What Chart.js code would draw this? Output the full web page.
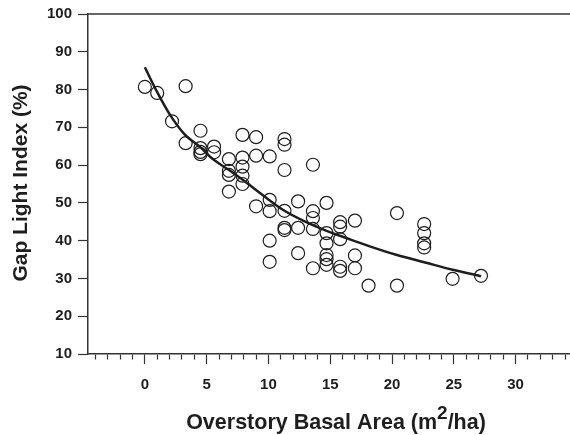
<!DOCTYPE html>
<html><head><meta charset="utf-8">
<script src="https://cdn.jsdelivr.net/npm/chart.js@4/dist/chart.umd.min.js"></script>
<style>html,body{margin:0;padding:0;background:#fff}#wrap{width:570px;height:435px}</style>
</head><body><div id="wrap"><canvas id="c" width="570" height="435"></canvas></div>
<script>
const obsX = [0, 1, 3.3, 2.2, 4.5, 3.3, 4.5, 4.5, 4.5, 5.6, 5.6, 7.9, 9, 11.3, 11.3, 6.8, 7.9, 9, 10.1, 13.6, 11.3, 6.8, 6.8, 7.9, 7.9, 7.9, 6.8, 10.1, 9, 10.1, 11.3, 12.4, 13.6, 13.6, 13.6, 14.7, 11.3, 11.3, 12.4, 10.1, 12.4, 10.1, 13.6, 14.7, 14.7, 14.7, 14.7, 14.7, 15.8, 15.8, 15.8, 15.8, 15.8, 17, 17, 17, 18.1, 20.4, 20.4, 22.6, 22.6, 22.6, 22.6, 24.9, 27.2];
const obsY = [80.7, 79.1, 80.9, 71.6, 69.1, 65.8, 64.5, 63.5, 62.9, 64.9, 63.4, 68, 67.4, 66.9, 65.4, 61.6, 62, 62.5, 62.3, 60.1, 58.7, 58.5, 57.4, 59.6, 57.2, 55, 53, 50.8, 49.1, 47.8, 47.9, 50.4, 47.8, 46, 43.1, 50, 43.4, 42.8, 43.4, 40, 36.7, 34.4, 32.7, 42, 39.3, 36.2, 35.1, 33.6, 44.9, 43.7, 40.4, 33.1, 32, 45.3, 36.1, 32.7, 28.1, 47.3, 28.1, 44.4, 42, 39.3, 38.2, 29.9, 30.7];
const fitX = [0, 1, 2, 3.2, 4.5, 5.5, 6.9, 8, 9.6, 11.2, 12.8, 14.7, 16.3, 18.2, 20.4, 22.6, 24.9, 27.2];
const fitY = [85.9, 79.3, 73.5, 68.2, 64.7, 61.6, 58.5, 55.9, 51.9, 48.1, 45.3, 42.6, 40.7, 38.5, 36.2, 34.3, 32.3, 30.6];
const xTickValues = [-4,-3,-2,-1,0,1,2,3,4,5,6,7,8,9,10,11,12,13,14,15,16,17,18,19,20,21,22,23,24,25,26,27,28,29,30,31,32,33,34];
const xLabelValues = [0, 5, 10, 15, 20, 25, 30];
const yTickValues = [10, 20, 30, 40, 50, 60, 70, 80, 90, 100];
const xTitleMain = 'Overstory Basal Area (m';
const xTitleSup = '2';
const xTitleEnd = '/ha)';
const yTitle = 'Gap Light Index (%)';

const FONT = "'Liberation Sans', Arial, sans-serif";
const INK = '#1e1e1e';

const framePlugin = {
  id: 'frame',
  afterDraw(chart) {
    const {ctx, chartArea: a} = chart;
    ctx.save();
    ctx.strokeStyle = '#333';
    ctx.lineWidth = 1.5;
    ctx.beginPath();
    ctx.moveTo(a.left, a.top);
    ctx.lineTo(a.right, a.top);
    ctx.stroke();
    // y title
    ctx.fillStyle = INK;
    ctx.font = 'bold 21px ' + FONT;
    ctx.textAlign = 'center';
    ctx.textBaseline = 'middle';
    ctx.translate(21, 183);
    ctx.rotate(-Math.PI / 2);
    ctx.fillText(yTitle, 0, 0);
    ctx.restore();
    // x title with superscript
    ctx.save();
    ctx.fillStyle = INK;
    ctx.textBaseline = 'alphabetic';
    ctx.textAlign = 'left';
    const mainFont = 'bold 21.5px ' + FONT;
    const supFont = 'bold 19px ' + FONT;
    ctx.font = mainFont;
    const w1 = ctx.measureText(xTitleMain).width;
    const w3 = ctx.measureText(xTitleEnd).width;
    ctx.font = supFont;
    const w2 = ctx.measureText(xTitleSup).width;
    const total = w1 + w2 + w3;
    let x = 336 - total / 2;
    const base = 429;
    ctx.font = mainFont;
    ctx.fillText(xTitleMain, x, base);
    x += w1;
    ctx.font = supFont;
    ctx.fillText(xTitleSup, x, base - 10);
    x += w2;
    ctx.font = mainFont;
    ctx.fillText(xTitleEnd, x, base);
    ctx.restore();
  }
};

new Chart(document.getElementById('c'), {
  type: 'scatter',
  data: {
    datasets: [
      {
        data: obsX.map((x, i) => ({x, y: obsY[i]})),
        pointRadius: 6.5,
        pointHoverRadius: 6.5,
        pointBorderWidth: 1.2,
        borderColor: INK,
        backgroundColor: 'rgba(0,0,0,0)',
        showLine: false
      },
      {
        data: fitX.map((x, i) => ({x, y: fitY[i]})),
        showLine: true,
        pointRadius: 0,
        borderColor: INK,
        borderWidth: 2.5,
        cubicInterpolationMode: 'monotone',
        fill: false
      }
    ]
  },
  options: {
    responsive: false,
    animation: false,
    devicePixelRatio: 1,
    layout: {autoPadding: false, padding: {top: 14, right: 0, left: 0, bottom: 0}},
    plugins: {legend: {display: false}, tooltip: {enabled: false}},
    scales: {
      x: {
        type: 'linear', min: -4.6, max: 34.4,
        afterBuildTicks: s => { s.ticks = xTickValues.map(v => ({value: v})); },
        afterFit: s => { s.height = 81; s.paddingLeft = 0; s.paddingRight = 0; },
        border: {display: true, color: '#333', width: 1.5},
        grid: {
          drawOnChartArea: false, drawTicks: true, tickLength: 10,
          color: '#333', tickWidth: 1.2,
          tickBorderDash: ctx => (ctx.tick && xLabelValues.includes(ctx.tick.value)) ? [] : [5, 50]
        },
        ticks: {
          autoSkip: false, maxRotation: 0, minRotation: 0, padding: 12, color: INK,
          font: {family: FONT, weight: 'bold', size: 15},
          callback: v => xLabelValues.includes(v) ? String(v) : ''
        },
        title: {display: false}
      },
      y: {
        type: 'linear', min: 10, max: 100,
        afterBuildTicks: s => { s.ticks = yTickValues.map(v => ({value: v})); },
        afterFit: s => { s.width = 88; s.paddingTop = 0; s.paddingBottom = 0; },
        border: {display: true, color: '#333', width: 1.5},
        grid: {drawOnChartArea: false, drawTicks: true, tickLength: 10, color: '#333', tickWidth: 1.2},
        ticks: {
          autoSkip: false, padding: 6, color: INK,
          font: {family: FONT, weight: 'bold', size: 15}
        },
        title: {display: false}
      }
    }
  },
  plugins: [framePlugin]
});
</script>
</body></html>
